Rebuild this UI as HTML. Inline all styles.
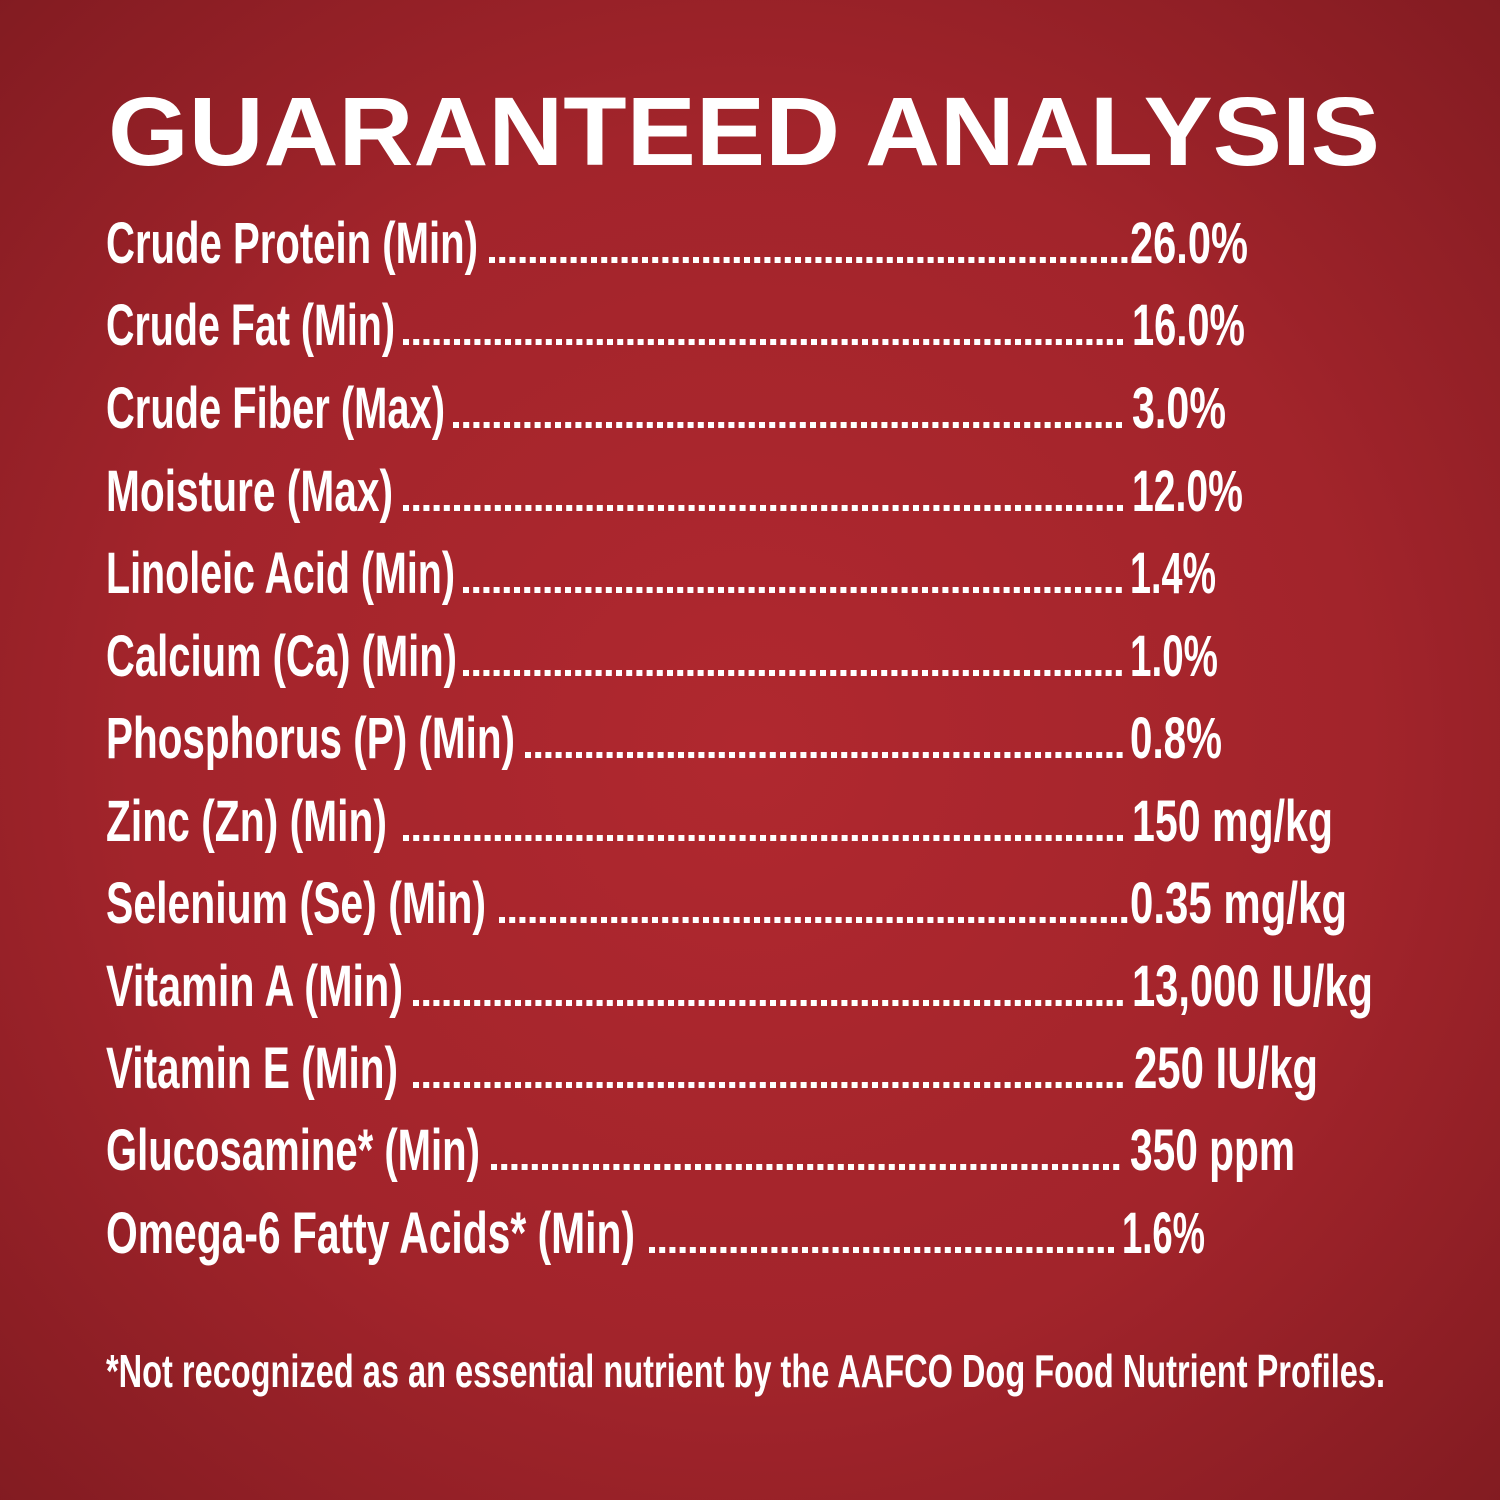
<!DOCTYPE html>
<html><head><style>
html,body{margin:0;padding:0;width:1500px;height:1500px;overflow:hidden;}
body{background:radial-gradient(ellipse 75% 75% at 50% 50%,#b0282f 0%,#a2242b 55%,#7e1a20 100%);}
svg{position:absolute;left:0;top:0}
text{fill:#fff;font-family:"Liberation Sans",sans-serif;}
.r{font-size:58px;font-weight:bold}
</style></head><body>
<svg width="1500" height="1500">
<text x="108" y="165" font-size="97" font-weight="bold" textLength="1272" lengthAdjust="spacingAndGlyphs">GUARANTEED ANALYSIS</text>
<g class="r" stroke="#fff" stroke-width="6" stroke-dasharray="0 10.2" stroke-linecap="square">
<text x="106" y="263" textLength="372" lengthAdjust="spacingAndGlyphs" stroke="none">Crude Protein (Min)</text><line x1="492" y1="260" x2="1125" y2="260"/><text x="1130" y="263" textLength="118" lengthAdjust="spacingAndGlyphs" stroke="none">26.0%</text>
<text x="106" y="345" textLength="289" lengthAdjust="spacingAndGlyphs" stroke="none">Crude Fat (Min)</text><line x1="406" y1="342" x2="1125" y2="342"/><text x="1132" y="345" textLength="113" lengthAdjust="spacingAndGlyphs" stroke="none">16.0%</text>
<text x="106" y="428" textLength="339" lengthAdjust="spacingAndGlyphs" stroke="none">Crude Fiber (Max)</text><line x1="456" y1="425" x2="1125" y2="425"/><text x="1132" y="428" textLength="94" lengthAdjust="spacingAndGlyphs" stroke="none">3.0%</text>
<text x="106" y="511" textLength="287" lengthAdjust="spacingAndGlyphs" stroke="none">Moisture (Max)</text><line x1="406" y1="508" x2="1125" y2="508"/><text x="1132" y="511" textLength="111" lengthAdjust="spacingAndGlyphs" stroke="none">12.0%</text>
<text x="106" y="593" textLength="349" lengthAdjust="spacingAndGlyphs" stroke="none">Linoleic Acid (Min)</text><line x1="466" y1="590" x2="1125" y2="590"/><text x="1130" y="593" textLength="86" lengthAdjust="spacingAndGlyphs" stroke="none">1.4%</text>
<text x="106" y="676" textLength="351" lengthAdjust="spacingAndGlyphs" stroke="none">Calcium (Ca) (Min)</text><line x1="466" y1="673" x2="1125" y2="673"/><text x="1130" y="676" textLength="88" lengthAdjust="spacingAndGlyphs" stroke="none">1.0%</text>
<text x="106" y="758" textLength="409" lengthAdjust="spacingAndGlyphs" stroke="none">Phosphorus (P) (Min)</text><line x1="528" y1="755" x2="1125" y2="755"/><text x="1130" y="758" textLength="92" lengthAdjust="spacingAndGlyphs" stroke="none">0.8%</text>
<text x="106" y="841" textLength="281" lengthAdjust="spacingAndGlyphs" stroke="none">Zinc (Zn) (Min)</text><line x1="406" y1="838" x2="1125" y2="838"/><text x="1132" y="841" textLength="201" lengthAdjust="spacingAndGlyphs" stroke="none">150 mg/kg</text>
<text x="106" y="923" textLength="380" lengthAdjust="spacingAndGlyphs" stroke="none">Selenium (Se) (Min)</text><line x1="502" y1="920" x2="1125" y2="920"/><text x="1130" y="923" textLength="217" lengthAdjust="spacingAndGlyphs" stroke="none">0.35 mg/kg</text>
<text x="106" y="1006" textLength="297" lengthAdjust="spacingAndGlyphs" stroke="none">Vitamin A (Min)</text><line x1="416" y1="1003" x2="1125" y2="1003"/><text x="1132" y="1006" textLength="241" lengthAdjust="spacingAndGlyphs" stroke="none">13,000 IU/kg</text>
<text x="106" y="1088" textLength="292" lengthAdjust="spacingAndGlyphs" stroke="none">Vitamin E (Min)</text><line x1="416" y1="1085" x2="1125" y2="1085"/><text x="1134" y="1088" textLength="184" lengthAdjust="spacingAndGlyphs" stroke="none">250 IU/kg</text>
<text x="106" y="1170" textLength="374" lengthAdjust="spacingAndGlyphs" stroke="none">Glucosamine* (Min)</text><line x1="494" y1="1167" x2="1125" y2="1167"/><text x="1130" y="1170" textLength="165" lengthAdjust="spacingAndGlyphs" stroke="none">350 ppm</text>
<text x="106" y="1253" textLength="529" lengthAdjust="spacingAndGlyphs" stroke="none">Omega-6 Fatty Acids* (Min)</text><line x1="652" y1="1250" x2="1118" y2="1250"/><text x="1122" y="1253" textLength="83" lengthAdjust="spacingAndGlyphs" stroke="none">1.6%</text>
</g>
<text x="106" y="1387" font-size="46" font-weight="bold" textLength="1279" lengthAdjust="spacingAndGlyphs">*Not recognized as an essential nutrient by the AAFCO Dog Food Nutrient Profiles.</text>
</svg>
</body></html>
